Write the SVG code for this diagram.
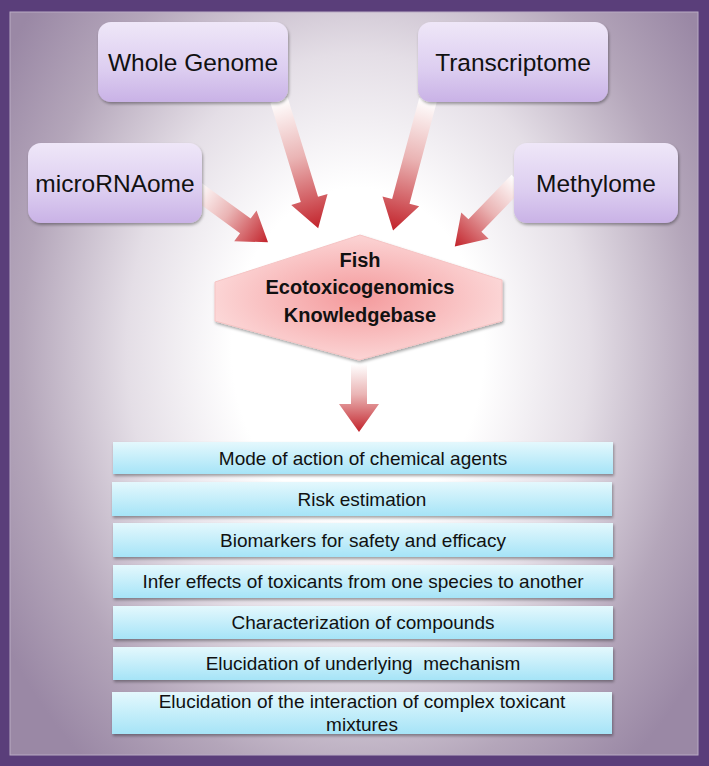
<svg xmlns="http://www.w3.org/2000/svg" width="709" height="766" viewBox="0 0 709 766">
  <defs>
    <radialGradient id="bg" gradientUnits="userSpaceOnUse" cx="0" cy="0" r="1" gradientTransform="translate(358,350) scale(420,540)">
      <stop offset="0" stop-color="#ffffff"/>
      <stop offset="0.3" stop-color="#ffffff"/>
      <stop offset="0.55" stop-color="#e4dee6"/>
      <stop offset="0.8" stop-color="#b4a6ba"/>
      <stop offset="1" stop-color="#9a88a5"/>
    </radialGradient>
    <linearGradient id="nodeFill" x1="0" y1="0" x2="0" y2="1">
      <stop offset="0" stop-color="#efe7f8"/>
      <stop offset="0.6" stop-color="#dccdf0"/>
      <stop offset="1" stop-color="#c9b2e6"/>
    </linearGradient>
    <linearGradient id="boxFill" x1="0" y1="0" x2="0" y2="1">
      <stop offset="0" stop-color="#e4f8fd"/>
      <stop offset="1" stop-color="#a6e4f7"/>
    </linearGradient>
    <linearGradient id="arrowFill" x1="0" y1="0" x2="1" y2="0">
      <stop offset="0" stop-color="#ffffff"/>
      <stop offset="0.45" stop-color="#eab4b4"/>
      <stop offset="1" stop-color="#c2232b"/>
    </linearGradient>
    <radialGradient id="hexFill" cx="0.5" cy="0.5" r="0.6">
      <stop offset="0" stop-color="#f49a9c"/>
      <stop offset="1" stop-color="#fde0e0"/>
    </radialGradient>
    <filter id="shadow" x="-10%" y="-20%" width="120%" height="150%">
      <feDropShadow dx="1" dy="2" stdDeviation="1.5" flood-color="#000" flood-opacity="0.35"/>
    </filter>
    <style>
      .node rect { fill: url(#nodeFill); filter: url(#shadow); }
      .node text { font-family: "Liberation Sans", Arial, sans-serif; font-size: 24.5px; fill: #111; text-anchor: middle; }
      .box rect { fill: url(#boxFill); filter: url(#shadow); }
      .box text { font-family: "Liberation Sans", Arial, sans-serif; font-size: 19px; fill: #111; text-anchor: middle; white-space: pre; }
      .hub text { font-family: "Liberation Sans", Arial, sans-serif; font-size: 20px; font-weight: bold; fill: #111; text-anchor: middle; }
      .arrow { fill: url(#arrowFill); }
    </style>
  </defs>

  <rect x="0" y="0" width="709" height="766" fill="#5a3e7a"/>
  <rect x="10" y="12" width="688" height="743" fill="url(#bg)" stroke="#b9abc4" stroke-width="1"/>

  <g id="connectors">
    <path class="arrow" transform="translate(279,100) rotate(73)" d="M0,-9 H104 V-19 L134,0 L104,19 V9 H0 Z"/>
    <path class="arrow" transform="translate(196,190) rotate(36)" d="M0,-9 H61 V-19 L89,0 L61,19 V9 H0 Z"/>
    <path class="arrow" transform="translate(428,100) rotate(105)" d="M0,-9 H105 V-19 L135,0 L105,19 V9 H0 Z"/>
    <path class="arrow" transform="translate(518,181) rotate(134)" d="M0,-9 H62 V-19 L91,0 L62,19 V9 H0 Z"/>
    <path class="arrow" transform="translate(359,364) rotate(90)" d="M0,-8 H40 V-20 L68,0 L40,20 V8 H0 Z"/>
  </g>

  <g id="node-whole-genome" class="node">
    <rect x="98" y="22" width="190" height="80" rx="13"/>
    <text x="193" y="71">Whole Genome</text>
  </g>
  <g id="node-transcriptome" class="node">
    <rect x="418" y="22" width="190" height="80" rx="13"/>
    <text x="513" y="71">Transcriptome</text>
  </g>
  <g id="node-micrornaome" class="node">
    <rect x="28" y="143" width="174" height="80" rx="13"/>
    <text x="115" y="192">microRNAome</text>
  </g>
  <g id="node-methylome" class="node">
    <rect x="514" y="143" width="164" height="80" rx="13"/>
    <text x="596" y="192">Methylome</text>
  </g>

  <g id="node-hub" class="hub">
    <polygon points="360,235 502,280 502,321 359,360 215,321 215,282" fill="url(#hexFill)" stroke="#f6c4c4" stroke-width="1" filter="url(#shadow)"/>
    <text x="360" y="267">Fish</text>
    <text x="360" y="294">Ecotoxicogenomics</text>
    <text x="360" y="322">Knowledgebase</text>
  </g>

  <g id="box-1" class="box">
    <rect x="113" y="442" width="500" height="32"/>
    <text x="363" y="465">Mode of action of chemical agents</text>
  </g>
  <g id="box-2" class="box">
    <rect x="112" y="482" width="500" height="34"/>
    <text x="362" y="506">Risk estimation</text>
  </g>
  <g id="box-3" class="box">
    <rect x="113" y="523" width="500" height="34"/>
    <text x="363" y="547">Biomarkers for safety and efficacy</text>
  </g>
  <g id="box-4" class="box">
    <rect x="113" y="565" width="500" height="33"/>
    <text x="363" y="588">Infer effects of toxicants from one species to another</text>
  </g>
  <g id="box-5" class="box">
    <rect x="113" y="606" width="500" height="33"/>
    <text x="363" y="629">Characterization of compounds</text>
  </g>
  <g id="box-6" class="box">
    <rect x="113" y="647" width="500" height="33"/>
    <text x="363" y="670" xml:space="preserve">Elucidation of underlying  mechanism</text>
  </g>
  <g id="box-7" class="box">
    <rect x="112" y="692" width="500" height="42"/>
    <text x="362" y="708">Elucidation of the interaction of complex toxicant</text>
    <text x="362" y="731">mixtures</text>
  </g>
</svg>
